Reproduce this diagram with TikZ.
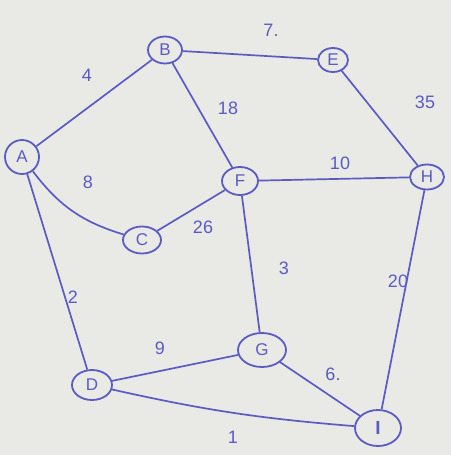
\documentclass[tikz,border=0pt]{standalone}
\usepackage{fontspec}
\setmainfont{Liberation Sans}
\usetikzlibrary{shapes.geometric}
\definecolor{ink}{HTML}{5B5BC4}
\definecolor{paper}{HTML}{E9E9E6}
\begin{document}
\begin{tikzpicture}[x=1pt,y=-1pt,
  vtx/.style={ellipse,draw=ink,line width=1.8pt,text=ink,inner sep=0pt,font=\fontsize{17}{17}\selectfont},
  edge/.style={draw=ink,line width=1.7pt},
  wt/.style={text=ink,font=\fontsize{18}{18}\selectfont}]
\fill[paper] (0,0) rectangle (451,455);
\useasboundingbox (0,0) rectangle (451,455);
\node[vtx,minimum width=34pt,minimum height=34pt] (A) at (22,157) {A};
\node[vtx,minimum width=34pt,minimum height=27pt] (B) at (165,50) {B};
\node[vtx,minimum width=30pt,minimum height=24pt] (E) at (333,60) {E};
\node[vtx,minimum width=34pt,minimum height=25pt] (H) at (427,177) {H};
\node[vtx,minimum width=36pt,minimum height=28pt] (F) at (240,181) {F};
\node[vtx,minimum width=38pt,minimum height=27pt] (C) at (142,240) {C};
\node[vtx,minimum width=48pt,minimum height=34pt] (G) at (262,350) {G};
\node[vtx,minimum width=40pt,minimum height=30pt] (D) at (92,385) {D};
\node[vtx,minimum width=46pt,minimum height=36pt,font=\fontsize{19}{19}\selectfont\bfseries] (I) at (378,428) {I};
\draw[edge] (A) -- (B);
\draw[edge] (B) -- (E);
\draw[edge] (E) -- (H);
\draw[edge] (A) to[bend right=18] (C);
\draw[edge] (B) -- (F);
\draw[edge] (F) -- (H);
\draw[edge] (C) -- (F);
\draw[edge] (F) -- (G);
\draw[edge] (H) -- (I);
\draw[edge] (A) -- (D);
\draw[edge] (D) -- (G);
\draw[edge] (G) -- (I);
\draw[edge] (D) to[bend right=4] (I);
\node[wt] (w4) at (87,75) {4};
\node[wt] (w7) at (271,30) {7.};
\node[wt] (w35) at (425,102) {35};
\node[wt] (w18) at (228,108) {18};
\node[wt] (w8) at (88,182) {8};
\node[wt] (w10) at (340,163) {10};
\node[wt] (w26) at (203,227) {26};
\node[wt] (w3) at (284,268) {3};
\node[wt] (w20) at (398,281) {20};
\node[wt] (w2) at (73,297) {2};
\node[wt] (w9) at (160,348) {9};
\node[wt] (w6) at (333,374) {6.};
\node[wt] (w1) at (233,437) {1};
\end{tikzpicture}
\end{document}
